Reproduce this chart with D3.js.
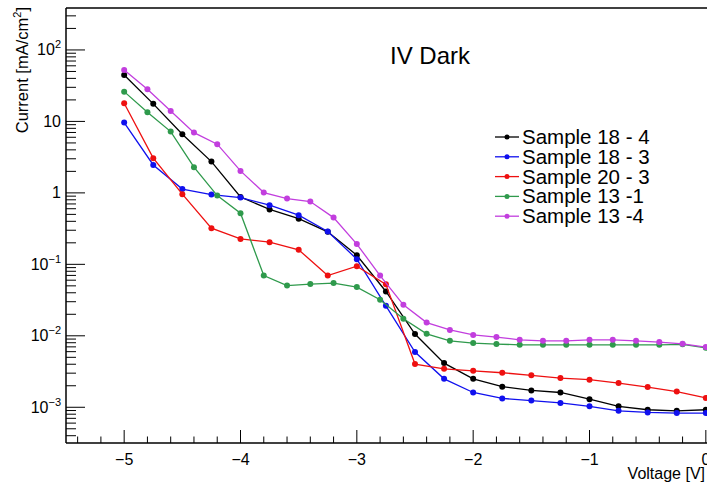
<!DOCTYPE html>
<html>
<head>
<meta charset="utf-8">
<script src="https://cdn.jsdelivr.net/npm/d3@7"></script>
<style>
  html, body { margin: 0; padding: 0; background: #fff; }
  svg { display: block; font-family: "Liberation Sans", Arial, Helvetica, sans-serif; }
</style>
</head>
<body>
<svg id="chart" width="707" height="485"></svg>
<script>
// ---- Data ----
const chartTitle = "IV Dark";
const xTitle = "Voltage [V]";
const seriesNames = ["Sample 18 - 4", "Sample 18 - 3", "Sample 20 - 3", "Sample 13 -1", "Sample 13 -4"];
const seriesColors = ["#000000", "#1010ee", "#ee1010", "#2f9a4c", "#c23ede"];

const voltsQuarter = [-5, -4.75, -4.5, -4.25, -4, -3.75, -3.5, -3.25, -3, -2.75, -2.5, -2.25, -2, -1.75, -1.5, -1.25, -1, -0.75, -0.5, -0.25, 0];
const voltsFifth = [-5, -4.8, -4.6, -4.4, -4.2, -4, -3.8, -3.6, -3.4, -3.2, -3, -2.8, -2.6, -2.4, -2.2, -2, -1.8, -1.6, -1.4, -1.2, -1, -0.8, -0.6, -0.4, -0.2, 0];

const sample18_4 = [44.7, 17.6, 6.62, 2.74, 0.879, 0.586, 0.436, 0.285, 0.134, 0.0417, 0.0106, 0.00415, 0.00250, 0.00194, 0.00172, 0.00161, 0.00130, 0.00103, 0.000923, 0.000893, 0.000923];
const sample18_3 = [9.62, 2.46, 1.13, 0.947, 0.860, 0.673, 0.488, 0.288, 0.118, 0.0263, 0.00592, 0.00250, 0.00161, 0.00133, 0.00124, 0.00115, 0.00103, 0.000893, 0.000846, 0.000830, 0.000830];
const sample20_3 = [17.97, 3.06, 0.959, 0.321, 0.227, 0.204, 0.160, 0.0697, 0.0944, 0.0525, 0.00402, 0.00345, 0.00324, 0.00304, 0.00280, 0.00256, 0.00243, 0.00218, 0.00192, 0.00166, 0.00135];
const sample13_1 = [26.1, 13.4, 7.20, 2.29, 0.917, 0.520, 0.0697, 0.0505, 0.0529, 0.0546, 0.0480, 0.0319, 0.0173, 0.01067, 0.00851, 0.00791, 0.00765, 0.00748, 0.00748, 0.00748, 0.00748, 0.00748, 0.00748, 0.00748, 0.0076, 0.00680];
const sample13_4 = [52.5, 28.2, 14.0, 6.97, 4.80, 2.03, 1.01, 0.832, 0.756, 0.451, 0.192, 0.0697, 0.0271, 0.0153, 0.0121, 0.0103, 0.00959, 0.00879, 0.00851, 0.00851, 0.00879, 0.00879, 0.00851, 0.00816, 0.00773, 0.00695];

const xMajorTicks = [-5, -4, -3, -2, -1, 0];
const yMajorExponents = [-3, -2, -1, 0, 1, 2];

const series = [
  { name: seriesNames[0], color: seriesColors[0], x: voltsQuarter, y: sample18_4 },
  { name: seriesNames[1], color: seriesColors[1], x: voltsQuarter, y: sample18_3 },
  { name: seriesNames[2], color: seriesColors[2], x: voltsQuarter, y: sample20_3 },
  { name: seriesNames[3], color: seriesColors[3], x: voltsFifth, y: sample13_1 },
  { name: seriesNames[4], color: seriesColors[4], x: voltsFifth, y: sample13_4 }
];

// ---- Layout ----
const svg = d3.select("#chart");
const pLeft = 66, pTop = 8, pBottom = 443, pRight = 764;

const x = d3.scaleLinear().domain([-5.5, 0.5]).range([pLeft, pRight]);
const y = d3.scaleLog().domain([Math.pow(10, -3.5), Math.pow(10, 2.587)]).range([pBottom, pTop]);

svg.append("defs").append("clipPath").attr("id", "clip")
  .append("rect").attr("x", pLeft).attr("y", pTop).attr("width", pRight - pLeft).attr("height", pBottom - pTop);

// ---- Series ----
const dataG = svg.append("g").attr("clip-path", "url(#clip)");
const line = d3.line().x(d => x(d[0])).y(d => y(d[1]));
series.forEach(s => {
  const pts = s.x.map((v, i) => [v, s.y[i]]);
  dataG.append("path").datum(pts)
    .attr("fill", "none").attr("stroke", s.color).attr("stroke-width", 1.3)
    .attr("d", line);
  dataG.selectAll(null).data(pts).enter().append("circle")
    .attr("cx", d => x(d[0])).attr("cy", d => y(d[1])).attr("r", 3)
    .attr("fill", s.color);
});

// ---- Axes (ROOT style, ticks inside) ----
const axisG = svg.append("g").attr("stroke", "#000");
axisG.append("line").attr("x1", pLeft).attr("x2", pLeft).attr("y1", pTop).attr("y2", pBottom).attr("stroke-width", 1.5);
axisG.append("line").attr("x1", pLeft).attr("x2", pRight).attr("y1", pBottom).attr("y2", pBottom).attr("stroke-width", 1.5);
axisG.append("line").attr("x1", pLeft).attr("x2", pRight).attr("y1", pTop).attr("y2", pTop).attr("stroke-width", 1.5);

// x ticks
const xMinor = d3.range(-27, 3).map(i => i * 0.2).filter(v => v > -5.5 && v < 0.5);
xMinor.forEach(v => {
  const isMajor = Math.abs(v - Math.round(v)) < 1e-6;
  axisG.append("line").attr("x1", x(v)).attr("x2", x(v))
    .attr("y1", pBottom).attr("y2", pBottom - (isMajor ? 13 : 6.5)).attr("stroke-width", 1);
});
const xLab = svg.append("g").attr("font-size", 16).attr("fill", "#000").attr("text-anchor", "middle");
xMajorTicks.forEach(v => {
  xLab.append("text").attr("x", x(v)).attr("y", 465)
    .text(v < 0 ? "\u2212" + Math.abs(v) : String(v));
});

// y ticks
[-4].concat(yMajorExponents).forEach(e => {
  for (let m = 1; m <= 9; m++) {
    const v = m * Math.pow(10, e);
    if (v < y.domain()[0] || v > y.domain()[1]) continue;
    axisG.append("line").attr("x1", pLeft).attr("x2", pLeft + (m === 1 ? 19 : 10))
      .attr("y1", y(v)).attr("y2", y(v)).attr("stroke-width", 1);
  }
});
const yLab = svg.append("g").attr("font-size", 16).attr("fill", "#000").attr("text-anchor", "end");
yMajorExponents.forEach(e => {
  const t = yLab.append("text").attr("x", 61).attr("y", y(Math.pow(10, e)) + 5.5);
  if (e === 0) t.text("1");
  else if (e === 1) t.text("10");
  else {
    t.append("tspan").text("10");
    t.append("tspan").attr("font-size", 11).attr("dy", -7)
      .text(e < 0 ? "\u2212" + Math.abs(e) : String(e));
  }
});

// axis titles
svg.append("text").attr("x", 705).attr("y", 479).attr("text-anchor", "end")
  .attr("font-size", 16).text(xTitle);
const yt = svg.append("text").attr("transform", "translate(28,7) rotate(-90)")
  .attr("text-anchor", "end").attr("font-size", 16.5);
yt.append("tspan").text("Current [mA/cm");
yt.append("tspan").attr("font-size", 11).attr("dy", -7).text("2");
yt.append("tspan").attr("dy", 7).text("]");

// title
svg.append("text").attr("x", 430).attr("y", 64).attr("text-anchor", "middle")
  .attr("font-size", 24).text(chartTitle);

// ---- Legend ----
const legG = svg.append("g");
series.forEach((s, i) => {
  const cy = 137 + i * 19.8;
  legG.append("line").attr("x1", 495).attr("x2", 519).attr("y1", cy).attr("y2", cy)
    .attr("stroke", s.color).attr("stroke-width", 1.3);
  legG.append("circle").attr("cx", 507).attr("cy", cy).attr("r", 2.5).attr("fill", s.color);
  legG.append("text").attr("x", 522).attr("y", cy + 7).attr("font-size", 20.5).text(s.name);
});
</script>
</body>
</html>
